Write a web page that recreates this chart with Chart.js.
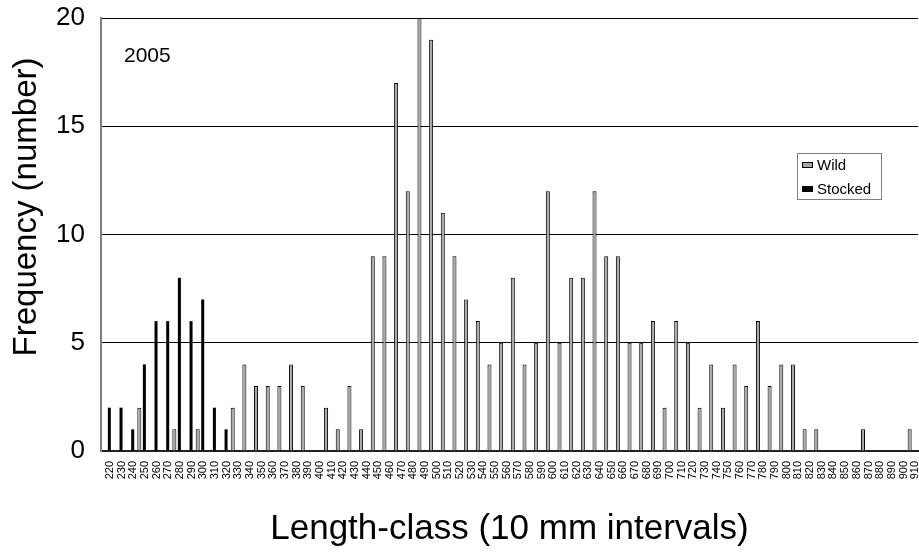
<!DOCTYPE html>
<html>
<head>
<meta charset="utf-8">
<script src="https://cdn.jsdelivr.net/npm/chart.js@4/dist/chart.umd.min.js"></script>
<style>
  html, body { margin: 0; padding: 0; background: #ffffff; }
</style>
</head>
<body>
<canvas id="chart" width="919" height="552"></canvas>
<script>

// length classes (10 mm intervals)
let lengthClasses = [
    "220", "230", "240", "250", "260", "270", "280", "290", "300", "310",
    "320", "330", "340", "350", "360", "370", "380", "390", "400", "410",
    "420", "430", "440", "450", "460", "470", "480", "490", "500", "510",
    "520", "530", "540", "550", "560", "570", "580", "590", "600", "610",
    "620", "630", "640", "650", "660", "670", "680", "690", "700", "710",
    "720", "730", "740", "750", "760", "770", "780", "790", "800", "810",
    "820", "830", "840", "850", "860", "870", "880", "890", "900", "910"
]

let wildCounts = [
    0, 0, 0, 2, 0, 0, 1, 0, 1, 0,
    0, 2, 4, 3, 3, 3, 4, 3, 0, 2,
    1, 3, 1, 9, 9, 17, 12, 20, 19, 11,
    9, 7, 6, 4, 5, 8, 4, 5, 12, 5,
    8, 8, 12, 9, 9, 5, 5, 6, 2, 6,
    5, 2, 4, 2, 4, 3, 6, 3, 4, 4,
    1, 1, 0, 0, 0, 1, 0, 0, 0, 1
]

let stockedCounts = [
    2, 2, 1, 4, 6, 6, 8, 6, 7, 2,
    1, 0, 0, 0, 0, 0, 0, 0, 0, 0,
    0, 0, 0, 0, 0, 0, 0, 0, 0, 0,
    0, 0, 0, 0, 0, 0, 0, 0, 0, 0,
    0, 0, 0, 0, 0, 0, 0, 0, 0, 0,
    0, 0, 0, 0, 0, 0, 0, 0, 0, 0,
    0, 0, 0, 0, 0, 0, 0, 0, 0, 0
]

let yTicks = [0, 5, 10, 15, 20]
let yearLabel = "2005"

let fontName = "'Liberation Sans', Arial, sans-serif"
let wildColor = '#a8a8a8'


// year text and the boxed legend, drawn on top of the plot
let extras = {
    id: 'extras',
    afterDraw: function (chart) {
        let ctx = chart.ctx
        let area = chart.chartArea
        ctx.save()

        ctx.fillStyle = '#000'
        ctx.font = "21px " + fontName
        ctx.textAlign = 'left'
        ctx.textBaseline = 'middle'
        ctx.fillText(yearLabel, area.left + 23, 56)

        // legend box
        let bx = 797, by = 153, bw = 84, bh = 46
        ctx.fillStyle = '#fff'
        ctx.fillRect(bx, by, bw, bh)
        ctx.strokeStyle = '#808080'
        ctx.lineWidth = 1
        ctx.strokeRect(bx + 0.5, by + 0.5, bw, bh)

        let entries = [
            { text: chart.data.datasets[0].label, fill: wildColor, border: '#000' },
            { text: chart.data.datasets[1].label, fill: '#000', border: '#000' }
        ]
        ctx.font = "15px " + fontName
        for (const i in entries) {
            let cy = by + 12 + i * 24
            ctx.fillStyle = entries[i].fill
            ctx.fillRect(bx + 5, cy - 3, 11, 6)
            ctx.strokeStyle = entries[i].border
            ctx.strokeRect(bx + 5.5, cy - 2.5, 10, 5)
            ctx.fillStyle = '#000'
            ctx.fillText(entries[i].text, bx + 20, cy + 1)
        }

        ctx.restore()
    }
}


function init() {

    let ctx = document.getElementById("chart")

    chart = new Chart(ctx, {
        type: 'bar',
        data: {
            labels: lengthClasses,
            datasets: [{
                label: "Wild",
                data: wildCounts,
                backgroundColor: wildColor,
                borderColor: '#000',
                borderWidth: 1,
                barPercentage: 0.8,
                categoryPercentage: 0.86
            },
            {
                label: "Stocked",
                data: stockedCounts,
                backgroundColor: '#000',
                borderWidth: 0,
                barPercentage: 0.6,
                categoryPercentage: 0.86
            }]
        },
        options: {
            responsive: false,
            animation: false,
            layout: {
                padding: { top: 18, right: 1, left: 0, bottom: 0 }
            },
            scales: {
                x: {
                    grid: { display: false },
                    border: { color: '#222', width: 2 },
                    ticks: {
                        color: '#000',
                        font: { family: fontName, size: 11 },
                        minRotation: 90,
                        maxRotation: 90,
                        autoSkip: false,
                        labelOffset: 3,
                        padding: 2
                    },
                    title: {
                        display: true,
                        text: "Length-class (10 mm intervals)",
                        color: '#000',
                        font: { family: fontName, size: 35 },
                        padding: { top: 0, bottom: 2 }
                    },
                    afterFit: function (scale) {
                        scale.height = 101
                        scale.paddingLeft = 0
                        scale.paddingRight = 0
                    }
                },
                y: {
                    min: 0,
                    max: 20,
                    afterBuildTicks: function (scale) {
                        scale.ticks = yTicks.map(v => ({ value: v }))
                    },
                    grid: {
                        color: '#000',
                        lineWidth: 1,
                        drawTicks: false
                    },
                    border: { color: '#808080', width: 2 },
                    ticks: {
                        color: '#000',
                        font: { family: fontName, size: 26 },
                        padding: 16
                    },
                    title: {
                        display: true,
                        // leading spaces lift the rotated title a bit, as in the original
                        text: "      Frequency (number)",
                        color: '#000',
                        font: { family: fontName, size: 33 },
                        padding: { top: 7, bottom: 0 }
                    },
                    afterFit: function (scale) {
                        scale.width = 101
                        scale.paddingTop = 0
                        scale.paddingBottom = 0
                    }
                }
            },
            plugins: {
                legend: { display: false },
                tooltip: { enabled: false }
            }
        },
        plugins: [extras]
    })

}

init()
</script>
</body>
</html>
